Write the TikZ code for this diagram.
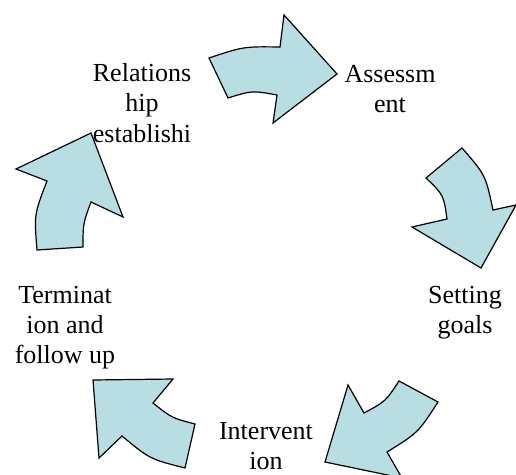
\documentclass[tikz,border=0pt]{standalone}
\usepackage{fontspec}
\setmainfont{Liberation Serif}
\usepackage{tikz}

\definecolor{arrowfill}{RGB}{184,222,227}

\tikzset{
  cyclearrow/.style={draw=black, fill=arrowfill, line width=0.9pt, line join=miter},
  stagetext/.style={anchor=base, align=center, inner sep=0.75pt,
    font=\fontsize{19.5}{22.5}\selectfont},
}

\begin{document}
\begin{tikzpicture}[x=0.75pt,y=0.75pt,yscale=-1,xscale=1]
\useasboundingbox (0,0) rectangle (516,474);

%Shape: Curved Arrow [top]
\draw [cyclearrow] (209,58) .. controls (243.5,46.5) .. (280,47) -- (284,15) -- (337,74) -- (273,123) -- (277,95) .. controls (252,90.5) .. (228,98) -- cycle ;
%Shape: Curved Arrow [right]
\draw [cyclearrow] (462,148) .. controls (485.5,175) .. (493,210) -- (516,205) -- (481,268) -- (412,227) -- (447,219) .. controls (443.6,194.9) .. (426,178) -- cycle ;
%Shape: Curved Arrow [bottom right]
\draw [cyclearrow] (438,402) .. controls (418.1,432.7) .. (387,452) -- (402,478) -- (325,462) -- (348,385) -- (364,413) .. controls (385.6,401.4) .. (399,381) -- cycle ;
%Shape: Curved Arrow [bottom left]
\draw [cyclearrow] (185,468) .. controls (149.9,459.1) .. (122,436) -- (99,458) -- (93,380) -- (173,379) -- (153,403) .. controls (171.8,418) .. (195,424) -- cycle ;
%Shape: Curved Arrow [left]
\draw [cyclearrow] (37,250) .. controls (34.1,214.4) .. (47,181) -- (16,169) -- (91,133) -- (123,217) -- (91,202) .. controls (83,223.8) .. (83,247) -- cycle ;

% Text Node (anchored at the baseline of the last line)
\node [stagetext] (rel) at (142,142) {Relations\\hip\\establishi};
% Text Node
\node [stagetext] (assess) at (390,113) {Assessm\\ent};
% Text Node
\node [stagetext] (goals) at (465,333) {Setting\\goals};
% Text Node
\node [stagetext] (interv) at (266,469) {Intervent\\ion};
% Text Node
\node [stagetext] (term) at (65,363) {Terminat\\ion and\\follow up};
\end{tikzpicture}
\end{document}
